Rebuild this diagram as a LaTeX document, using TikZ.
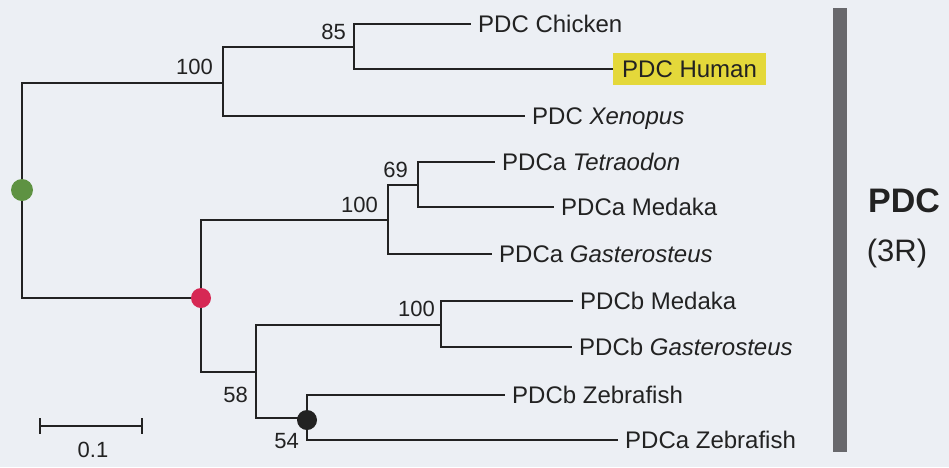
\documentclass[tikz,border=0pt]{standalone}
\usepackage{fontspec}
\setmainfont{Liberation Sans}
\usetikzlibrary{positioning}

\definecolor{paper}{RGB}{236,239,244}
\definecolor{ink}{RGB}{34,34,34}
\definecolor{dotgreen}{RGB}{94,146,66}
\definecolor{dotred}{RGB}{214,40,84}
\definecolor{hlyellow}{RGB}{228,216,58}
\definecolor{barcol}{RGB}{104,104,108}

\begin{document}
\begin{tikzpicture}[
  x=1pt, y=-1pt,
  font=\fontsize{24}{28}\selectfont,
  branch/.style = {draw=ink, line width=2.4pt},
  leaf/.style   = {anchor=west, inner xsep=7pt, inner ysep=0pt,
                   text height=16pt, text depth=0pt, text=ink},
  boot/.style   = {anchor=base east, inner sep=0pt, text=ink,
                   font=\fontsize{22}{26}\selectfont},
  dupdot/.style = {circle, inner sep=0pt, minimum size=20pt}
]

\fill[paper] (0,0) rectangle (949,467);

% internal nodes
\coordinate (root)  at (22,190);
\coordinate (tetra) at (223,83);
\coordinate (amn)   at (354,47);
\coordinate (fish)  at (201,298);
\coordinate (pdca)  at (388,220);
\coordinate (acan)  at (418,185);
\coordinate (pdcb)  at (256,372);
\coordinate (perc)  at (441,325);
\coordinate (zeb)   at (307,418);

% leaves
\node[leaf] (chick) at (471,24)  {PDC Chicken};
\node[leaf, fill=hlyellow, inner xsep=9pt, minimum height=32pt]
            (human) at (613,69)  {PDC Human};
\node[leaf] (xen)   at (525,116) {PDC \textit{Xenopus}};
\node[leaf] (tetA)  at (495,162) {PDCa \textit{Tetraodon}};
\node[leaf] (medA)  at (554,207) {PDCa Medaka};
\node[leaf] (gasA)  at (492,254) {PDCa \textit{Gasterosteus}};
\node[leaf] (medB)  at (573,301) {PDCb Medaka};
\node[leaf] (gasB)  at (572,347) {PDCb \textit{Gasterosteus}};
\node[leaf] (zebB)  at (505,395) {PDCb Zebrafish};
\node[leaf] (zebA)  at (618,440) {PDCa Zebrafish};

% branches
\draw[branch] (root) |- (tetra);
\draw[branch] (root) |- (fish);
\draw[branch] (tetra) |- (amn);
\draw[branch] (tetra) |- (xen.west);
\draw[branch] (amn) |- (chick.west);
\draw[branch] (amn) |- (human.west);
\draw[branch] (fish) |- (pdca);
\draw[branch] (fish) |- (pdcb);
\draw[branch] (pdca) |- (acan);
\draw[branch] (pdca) |- (gasA.west);
\draw[branch] (acan) |- (tetA.west);
\draw[branch] (acan) |- (medA.west);
\draw[branch] (pdcb) |- (perc);
\draw[branch] (pdcb) |- (zeb);
\draw[branch] (perc) |- (medB.west);
\draw[branch] (perc) |- (gasB.west);
\draw[branch] (zeb) |- (zebB.west);
\draw[branch] (zeb) |- (zebA.west);

% bootstrap values
\node[boot] (b85)   at (346,39)  {85};
\node[boot] (b100a) at (213,74)  {100};
\node[boot] (b69)   at (408,177) {69};
\node[boot] (b100b) at (378,212) {100};
\node[boot] (b100c) at (435,316) {100};
\node[boot] (b58)   at (248,402) {58};
\node[boot] (b54)   at (299,448) {54};

% duplication dots
\node[dupdot, fill=dotgreen, minimum size=22pt] (gdot) at (root) {};
\node[dupdot, fill=dotred]   (rdot) at (fish) {};
\node[dupdot, fill=ink]      (kdot) at (307,420) {};

% scale bar
\coordinate (sbl) at (40,426);
\coordinate (sbr) at (142,426);
\draw[branch] (sbl) -- (sbr);
\draw[branch] (sbl) ++(0,-8) -- ++(0,16);
\draw[branch] (sbr) ++(0,-8) -- ++(0,16);
\node[boot, anchor=base] (scale) at (93,457) {0.1};

% group bar
\draw[barcol, line width=14pt] (840,8) -- (840,452);
\node[anchor=base, inner sep=0pt, text=ink, font=\fontsize{34}{38}\selectfont\bfseries]
      (grp) at (904,212) {PDC};
\node[anchor=base, inner sep=0pt, text=ink, font=\fontsize{31}{36}\selectfont]
      (grpr) at (897,261) {(3R)};

\end{tikzpicture}
\end{document}
